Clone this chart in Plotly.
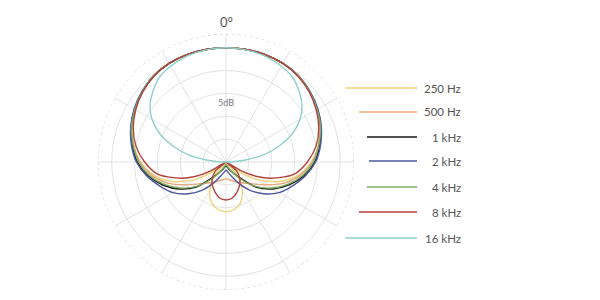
import plotly.graph_objects as go

# ---- data (dB, half pattern 0..180 deg, pattern is symmetric) ----
labels = ["250 Hz", "500 Hz", "1 kHz", "2 kHz", "4 kHz", "8 kHz", "16 kHz"]
colors = ["#EDD57C", "#E8A47A", "#151515", "#4B5AA0", "#7DAF62", "#B5413B", "#8FD0CB"]

theta_250 = [0, 10, 20, 30, 40, 50, 60, 70, 80, 90, 100, 110, 120, 128, 133, 140, 150, 160, 170, 180]
r_250 = [0, 0, 0, -0.1, -0.4, -1.1, -2.0, -3.1, -4.5, -6.3, -8.8, -12.5, -17.5, -22.5, -25, -21.0, -17.9, -15.6, -14.5, -14.1]

theta_500 = [0, 10, 20, 30, 40, 50, 60, 70, 80, 90, 100, 110, 120, 130, 140, 150, 160, 170, 180]
r_500 = [0, 0, 0, -0.1, -0.4, -1.1, -2.0, -3.1, -4.5, -6.2, -8.5, -11.5, -15.0, -17.6, -19.0, -19.9, -20.6, -21.1, -21.3]

theta_1k = [0, 10, 20, 30, 40, 50, 60, 70, 80, 90, 100, 110, 120, 130, 140, 150, 160, 170, 180]
r_1k = [0, 0, 0, -0.1, -0.4, -1.1, -1.9, -2.9, -4.2, -5.6, -7.7, -10.3, -13.2, -16.5, -20.8, -22.6, -23.5, -24.0, -24.2]

theta_2k = [0, 10, 20, 30, 40, 50, 60, 70, 80, 90, 100, 110, 120, 130, 140, 150, 160, 170, 180]
r_2k = [0, 0, 0, -0.1, -0.4, -1.0, -1.8, -2.8, -4.0, -5.4, -7.4, -9.6, -11.6, -14.2, -17.0, -19.8, -21.8, -22.8, -23.2]

theta_4k = [0, 10, 20, 30, 40, 50, 60, 70, 80, 90, 100, 110, 120, 130, 140, 150, 160, 170, 180]
r_4k = [0, 0, 0, -0.1, -0.4, -1.1, -2.0, -3.0, -4.4, -5.9, -8.0, -10.7, -13.6, -16.8, -20.3, -22.8, -23.8, -24.3, -24.5]

theta_8k = [0, 10, 20, 30, 40, 50, 60, 70, 80, 90, 100, 110, 115, 120, 125, 130, 140, 150, 160, 170, 180]
r_8k = [0, 0, 0, -0.1, -0.5, -1.2, -2.2, -3.4, -5.0, -7.2, -9.8, -14.6, -17.5, -21.0, -25, -22.0, -20.3, -19.1, -18.0, -17.0, -16.7]

theta_16k = [0, 10, 20, 30, 38, 45, 53, 60, 67, 73, 79, 84, 88, 91, 120, 150, 180]
r_16k = [0, -0.1, -0.3, -0.8, -1.4, -2.6, -4.2, -6.3, -9.3, -12.7, -16.5, -20.7, -23.5, -25, -25, -25, -25]

thetas = [theta_250, theta_500, theta_1k, theta_2k, theta_4k, theta_8k, theta_16k]
rs = [r_250, r_500, r_1k, r_2k, r_4k, r_8k, r_16k]

r_min, r_max = -25, 3
ring_vals = [-20, -15, -10, -5, 0]

W, H = 600, 300


def mirror(th, rr):
    th_full = list(th) + [360 - t for t in reversed(th[:-1])]
    r_full = list(rr) + list(reversed(rr[:-1]))
    return th_full, r_full


fig = go.Figure()

# dashed outer circle
circ_t = list(range(0, 361, 3))
fig.add_trace(go.Scatterpolar(r=[r_max] * len(circ_t), theta=circ_t, mode="lines",
                              line=dict(color="#C8C8C8", width=1, dash="3px,3px"),
                              hoverinfo="skip", showlegend=False))

for lab, col, th, rr in zip(labels, colors, thetas, rs):
    tf, rf = mirror(th, rr)
    fig.add_trace(go.Scatterpolar(r=rf, theta=tf, mode="lines", name=lab,
                                  line=dict(color=col, width=1.4, shape="spline", smoothing=0.8),
                                  showlegend=False))

cx, cy, R = 226, 162, 128
fig.update_layout(
    width=W, height=H,
    margin=dict(l=0, r=0, t=0, b=0),
    paper_bgcolor="white",
    plot_bgcolor="white",
    showlegend=False,
    polar=dict(
        domain=dict(x=[(cx - R) / W, (cx + R) / W], y=[1 - (cy + R) / H, 1 - (cy - R) / H]),
        bgcolor="white",
        radialaxis=dict(range=[r_min, r_max], tickvals=ring_vals, showticklabels=False,
                        gridcolor="#E2E2E2", gridwidth=1, showline=False, ticks=""),
        angularaxis=dict(rotation=90, direction="clockwise", dtick=30, showticklabels=False,
                         gridcolor="#E2E2E2", gridwidth=1, showline=False, ticks=""),
    ),
)

# legend drawn manually
leg_y = [88, 112, 137, 161, 187, 212, 238]
leg_x0 = [345, 359, 367, 369, 367, 359, 345]
leg_x1 = 417
text_right = 463
for lab, col, y, x0 in zip(labels, colors, leg_y, leg_x0):
    fig.add_shape(type="line", xref="paper", yref="paper",
                  x0=x0 / W, x1=leg_x1 / W, y0=1 - y / H, y1=1 - y / H,
                  line=dict(color=col, width=1.6))
    fig.add_annotation(xref="paper", yref="paper", x=text_right / W, y=1 - y / H,
                       text=lab, showarrow=False, xanchor="right", yanchor="middle",
                       font=dict(family="Lato", size=11.5, color="#555555"))

fig.add_annotation(xref="paper", yref="paper", x=cx / W, y=1 - 22 / H, text="0°",
                   showarrow=False, xanchor="center", yanchor="middle",
                   font=dict(family="Lato", size=13, color="#555555"))
fig.add_annotation(xref="paper", yref="paper", x=cx / W, y=1 - 103 / H, text="5dB",
                   showarrow=False, xanchor="center", yanchor="middle",
                   font=dict(family="Lato", size=9, color="#777777"))

fig.write_html("out.html")
